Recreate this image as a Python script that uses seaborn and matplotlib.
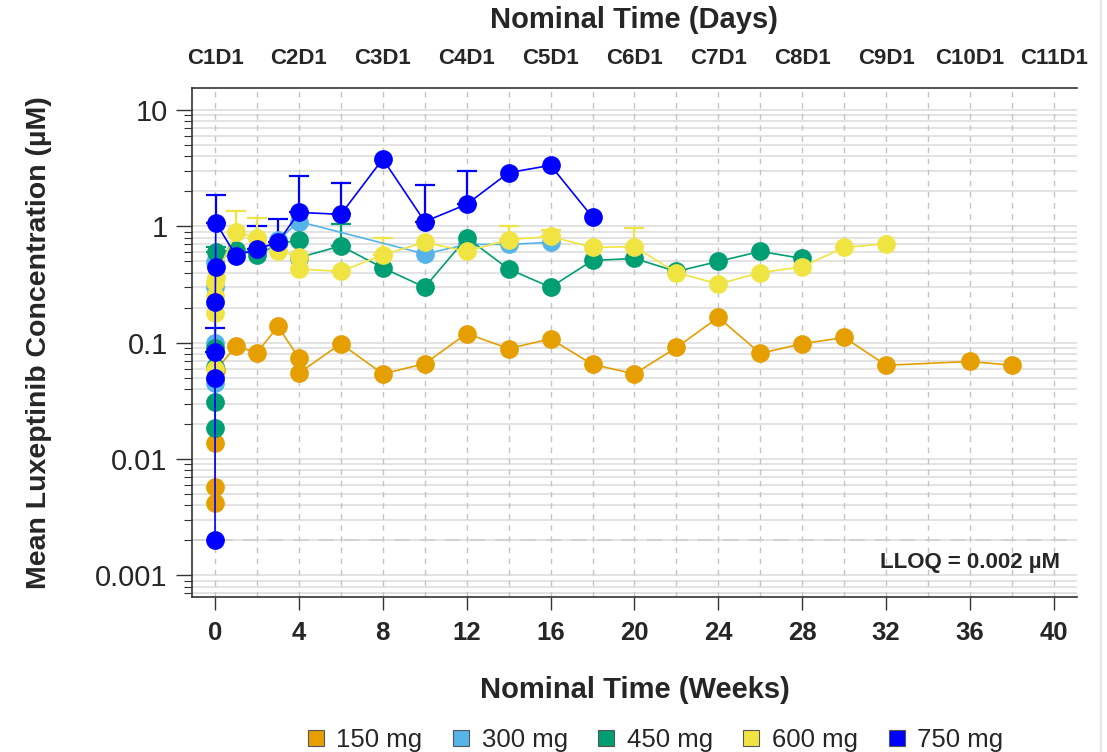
import numpy as np
import pandas as pd
import matplotlib
matplotlib.use("Agg")
import matplotlib.pyplot as plt
from matplotlib.lines import Line2D
from matplotlib.ticker import LogLocator, FixedLocator, NullFormatter
import seaborn as sns

# Mean concentrations (uM) by nominal week
doses = ["150 mg", "300 mg", "450 mg", "600 mg", "750 mg"]
colors = ["#E69F00", "#56B4E9", "#009E73", "#F0E442", "#0000FF"]

weeks_150 = [0, 0.003, 0.006, 0.012, 0.024, 1, 2, 3, 4, 4.01, 6, 8, 10, 12, 14, 16, 18, 20,
             22, 24, 26, 28, 30, 32, 36, 38]
conc_150 = [0.0042, 0.0058, 0.0138, 0.048, 0.058, 0.093, 0.082, 0.138, 0.074, 0.055, 0.098,
            0.054, 0.066, 0.120, 0.089, 0.108, 0.065, 0.054, 0.091, 0.165, 0.081, 0.098,
            0.111, 0.064, 0.069, 0.064]

weeks_300 = [0, 0.003, 0.006, 0.012, 1, 2, 3, 4, 10, 12, 14, 16]
conc_300 = [0.045, 0.10, 0.30, 0.49, 0.62, 0.60, 0.76, 1.10, 0.58, 0.70, 0.70, 0.73]

weeks_450 = [0, 0.003, 0.006, 0.012, 0.024, 1, 2, 3, 4, 4.01, 6, 8, 10, 12, 14, 16, 18, 20,
             22, 24, 26, 28]
conc_450 = [0.0186, 0.031, 0.062, 0.09, 0.60, 0.63, 0.57, 0.70, 0.77, 0.54, 0.68, 0.44, 0.30,
            0.80, 0.43, 0.30, 0.51, 0.53, 0.41, 0.50, 0.61, 0.53]

weeks_600 = [0, 0.003, 0.006, 0.012, 0.024, 1, 2, 3, 4, 4.01, 6, 8, 10, 12, 14, 16, 18, 20,
             22, 24, 26, 28, 30, 32]
conc_600 = [0.06, 0.18, 0.25, 0.33, 0.37, 0.89, 0.80, 0.62, 0.55, 0.43, 0.41, 0.57, 0.73, 0.61,
            0.77, 0.82, 0.66, 0.67, 0.40, 0.32, 0.40, 0.45, 0.66, 0.71]

weeks_750 = [0, 0.003, 0.006, 0.012, 0.024, 0.036, 1, 2, 3, 4, 6, 8, 10, 12, 14, 16, 18]
conc_750 = [0.002, 0.050, 0.084, 0.226, 0.45, 1.08, 0.56, 0.64, 0.73, 1.32, 1.27, 3.8, 1.1,
            1.55, 2.9, 3.35, 1.2]

# Upper error bars: (dose, week, mean, upper)
err_dose = ["750 mg", "750 mg", "750 mg", "750 mg", "750 mg", "750 mg", "750 mg", "750 mg",
            "600 mg", "600 mg", "600 mg", "600 mg", "600 mg", "600 mg", "450 mg", "450 mg"]
err_week = [0.036, 0.012, 2, 3, 4, 6, 10, 12, 1, 2, 8, 14, 16, 20, 6, 0.024]
err_mean = [1.08, 0.084, 0.64, 0.73, 1.32, 1.27, 1.1, 1.55, 0.89, 0.80, 0.57, 0.77, 0.82, 0.67,
            0.68, 0.60]
err_upper = [1.85, 0.135, 1.0, 1.15, 2.7, 2.35, 2.25, 2.97, 1.35, 1.17, 0.79, 1.0, 0.94, 0.97,
             1.04, 0.66]

lloq = 0.002
bottom_ticks = list(range(0, 41, 4))
top_labels = ["C1D1", "C2D1", "C3D1", "C4D1", "C5D1", "C6D1", "C7D1", "C8D1", "C9D1",
              "C10D1", "C11D1"]

frames = []
for d, w, c in zip(doses,
                   [weeks_150, weeks_300, weeks_450, weeks_600, weeks_750],
                   [conc_150, conc_300, conc_450, conc_600, conc_750]):
    frames.append(pd.DataFrame({"Week": w, "Conc": c, "Dose": d}))
df = pd.concat(frames, ignore_index=True)

sns.set_style("white")
plt.rcParams["font.family"] = ["Liberation Sans", "DejaVu Sans"]

fig = plt.figure(figsize=(11.07, 7.52), dpi=100)
ax = fig.add_axes([0.1734, 0.206, 0.7995, 0.677])

pal = dict(zip(doses, colors))

# error bars first, under markers
for d, w, m, u in zip(err_dose, err_week, err_mean, err_upper):
    ax.errorbar([w], [m], yerr=[[0], [u - m]], fmt="none", ecolor=pal[d],
                elinewidth=1.6, capsize=7, capthick=1.6, zorder=2)

sns.lineplot(data=df, x="Week", y="Conc", hue="Dose", hue_order=doses, palette=pal,
             estimator=None, sort=False, marker="o", markersize=13.5, markeredgewidth=0,
             linewidth=1.2, legend=False, ax=ax, zorder=3)

ax.set_yscale("log")
ax.set_ylim(0.00065, 15.5)
ax.set_xlim(-1.1, 41.1)

# grids
minor = []
for e in range(-4, 2):
    for k in range(1, 10):
        minor.append(k * 10.0 ** e)
for v in minor:
    if 0.00065 < v < 15.5:
        ax.axhline(v, color="#e3e3e3", linewidth=1.4, zorder=0)
for x in range(0, 41, 2):
    ax.axvline(x, color="#c4c4c4", linewidth=1.0, linestyle=(0, (4, 4)), zorder=0.5)
ax.axhline(lloq, color="#d2d2d2", linewidth=1.4, linestyle=(0, (8, 5)), zorder=0.6)
ax.text(40.3, 0.00128, "LLOQ = 0.002 µM", ha="right", va="center", fontsize=16,
        fontweight="bold")

ax.yaxis.set_major_locator(FixedLocator([0.001, 0.01, 0.1, 1, 10]))
ax.set_yticklabels(["0.001", "0.01", "0.1", "1", "10"], fontsize=21)
ax.yaxis.set_minor_locator(LogLocator(base=10, subs=np.arange(2, 10)))
ax.yaxis.set_minor_formatter(NullFormatter())
ax.tick_params(axis="y", which="major", length=11.5, width=1, left=True, color="#333333",
               pad=6)
ax.tick_params(axis="y", which="minor", length=6, width=0.8, left=True, color="#333333")

ax.set_xticks(bottom_ticks)
ax.set_xticklabels([str(t) for t in bottom_ticks], fontsize=18.5, fontweight="bold")
ax.tick_params(axis="x", length=9.5, width=1, bottom=True, color="#333333", pad=8)

ax.set_xlabel("Nominal Time (Weeks)", fontsize=21, fontweight="bold")
ax.xaxis.set_label_coords(0.5, -0.155)
ax.set_ylabel("Mean Luxeptinib Concentration (µM)", fontsize=20.5, fontweight="bold")
ax.yaxis.set_label_coords(-0.158, 0.5)

for s in ["left", "bottom", "top"]:
    ax.spines[s].set_color("#333333")
    ax.spines[s].set_linewidth(1.2)
ax.spines["right"].set_visible(False)

top = ax.twiny()
top.set_xlim(ax.get_xlim())
top.set_xticks(bottom_ticks)
top.set_xticklabels(top_labels, fontsize=16, fontweight="bold")
top.tick_params(axis="x", length=0, pad=14)
top.set_xlabel("Nominal Time (Days)", fontsize=21, fontweight="bold", labelpad=14)
for s in top.spines.values():
    s.set_visible(False)

handles = [Line2D([], [], marker="s", linestyle="none", markersize=11,
                  markerfacecolor=c, markeredgecolor="#555555", markeredgewidth=0.8)
           for c in colors]
fig.legend(handles, doses, loc="center", bbox_to_anchor=(0.59, 0.016), ncol=5,
           frameon=False, fontsize=18.5, handletextpad=0.3, columnspacing=1.0,
           handlelength=1.0)

# faint screenshot border on the right
fig.add_artist(Line2D([0.9945, 0.9945], [0, 1], color="#e6e6e6", linewidth=1.5))

fig.savefig("out.png", dpi=100)
